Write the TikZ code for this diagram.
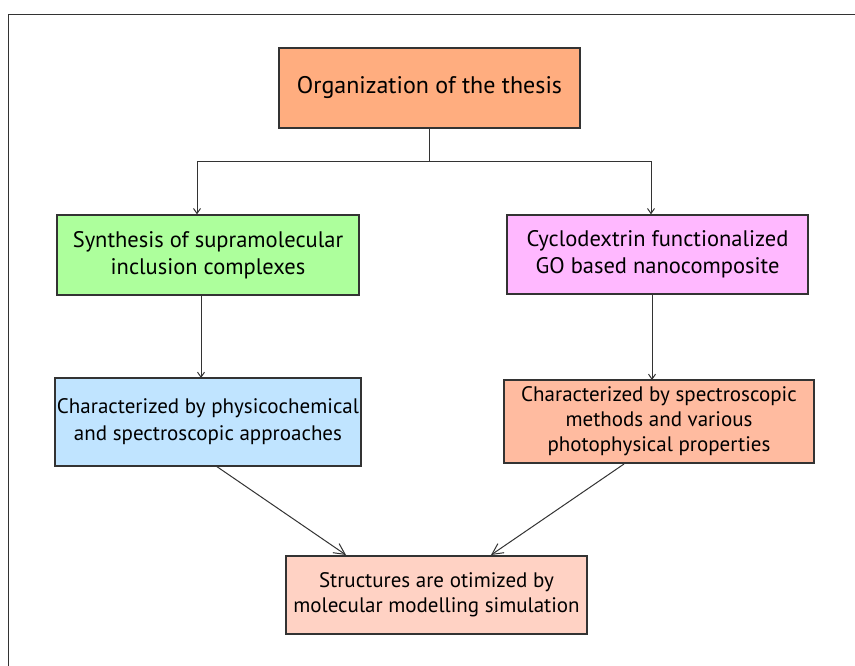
\documentclass[tikz,border=0pt]{standalone}
\usepackage{fontspec}
\setmainfont{PT Sans}
\usetikzlibrary{arrows.meta}
\definecolor{linec}{HTML}{333333}
\definecolor{ctop}{HTML}{FFAD7F}
\definecolor{cgreen}{HTML}{ADFF9C}
\definecolor{cpink}{HTML}{FFB8FF}
\definecolor{cblue}{HTML}{C0E4FF}
\definecolor{csalmon}{HTML}{FFBBA0}
\definecolor{cbottom}{HTML}{FFD2C4}
\tikzset{
  box/.style={draw=linec, line width=1.3pt, inner sep=0pt, align=center, font=\fontsize{22.5}{27}\selectfont},
  conn/.style={draw=linec, line width=1pt},
  small/.style={conn, -{Straight Barb[length=5pt,width=7pt]}},
  big/.style={conn, -{Straight Barb[length=11pt,width=11pt]}},
}
\begin{document}
\begin{tikzpicture}[x=1pt,y=-1pt]
\useasboundingbox (0,0) rectangle (855,666);
\fill[white] (0,0) rectangle (855,666);
\draw[linec, line width=1.3pt] (8.5,666) -- (8.5,14.5) -- (855,14.5);

\node[box, fill=ctop, minimum width=301pt, minimum height=80pt, font=\fontsize{24}{28}\selectfont] (top) at (429.5,88) {Organization of the thesis};
\node[box, fill=cgreen, minimum width=302pt, minimum height=80pt] (green) at (208,255) {Synthesis of supramolecular\\inclusion complexes};
\node[box, fill=cpink, minimum width=301pt, minimum height=79pt] (pink) at (657.5,254.5) {Cyclodextrin functionalized\\GO based nanocomposite};
\node[box, fill=cblue, minimum width=306pt, minimum height=88pt, font=\fontsize{21}{27}\selectfont] (blue) at (208,422) {Characterized by physicochemical\\and spectroscopic approaches};
\node[box, fill=csalmon, minimum width=310pt, minimum height=83pt, font=\fontsize{21}{25}\selectfont] (salmon) at (659,421.5) {Characterized by spectroscopic\\methods and various\\photophysical properties};
\node[box, fill=cbottom, minimum width=301pt, minimum height=78pt, font=\fontsize{21}{25}\selectfont] (bottom) at (436.5,595) {Structures are otimized by\\molecular modelling simulation};

\coordinate (j) at (429.5,162);
\coordinate (jl) at (197,162);
\coordinate (jr) at (651,162);
\draw[conn] (top.south) -- (j);
\draw[small] (j) -- (jl) -- (jl |- green.north);
\draw[small] (j) -- (jr) -- (jr |- pink.north);
\draw[small] (201,295) -- (201,378);
\draw[small] (652,294) -- (652,380);
\draw[big] (216,466) -- (346,555);
\draw[big] (624,464) -- (491,555);
\end{tikzpicture}
\end{document}
